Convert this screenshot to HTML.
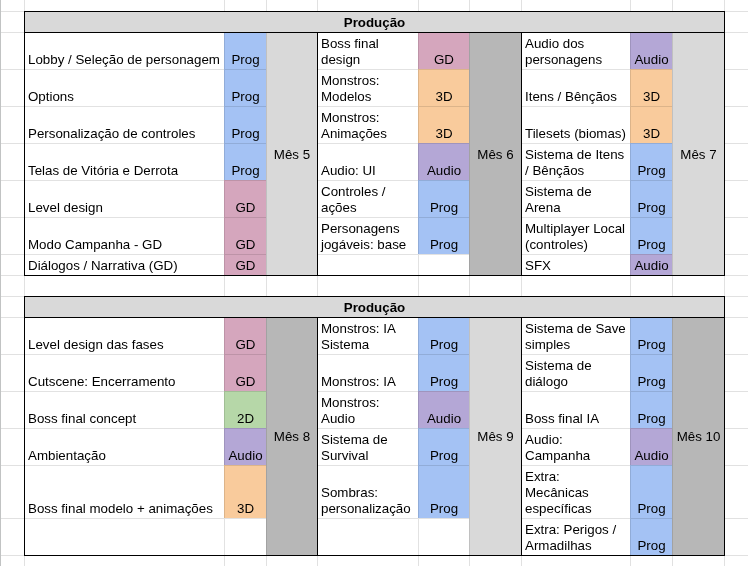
<!DOCTYPE html>
<html lang="pt"><head><meta charset="utf-8"><title>Produção</title>
<style>
html,body{margin:0;padding:0;background:#fff;}
body{width:748px;height:566px;position:relative;overflow:hidden;font-family:"Liberation Sans",Arial,sans-serif;font-size:13.333px;line-height:16px;color:#000;}
.r{position:absolute;}
.c{position:absolute;box-sizing:border-box;display:flex;flex-direction:column;justify-content:flex-end;white-space:nowrap;overflow:hidden;padding:0 3px 1px 3px;}
.c.t{align-items:flex-start;}
.c.k{align-items:center;}
.c.m{align-items:center;justify-content:center;padding:2px 0 0 0;}
.c.hd{align-items:center;font-weight:bold;}
</style></head><body>
<div class="r" style="left:0px;top:11px;width:748px;height:1px;background:#e1e1e1"></div>
<div class="r" style="left:0px;top:32px;width:748px;height:1px;background:#e1e1e1"></div>
<div class="r" style="left:0px;top:69px;width:748px;height:1px;background:#e1e1e1"></div>
<div class="r" style="left:0px;top:106px;width:748px;height:1px;background:#e1e1e1"></div>
<div class="r" style="left:0px;top:143px;width:748px;height:1px;background:#e1e1e1"></div>
<div class="r" style="left:0px;top:180px;width:748px;height:1px;background:#e1e1e1"></div>
<div class="r" style="left:0px;top:217px;width:748px;height:1px;background:#e1e1e1"></div>
<div class="r" style="left:0px;top:254px;width:748px;height:1px;background:#e1e1e1"></div>
<div class="r" style="left:0px;top:275px;width:748px;height:1px;background:#e1e1e1"></div>
<div class="r" style="left:0px;top:296px;width:748px;height:1px;background:#e1e1e1"></div>
<div class="r" style="left:0px;top:317px;width:748px;height:1px;background:#e1e1e1"></div>
<div class="r" style="left:0px;top:354px;width:748px;height:1px;background:#e1e1e1"></div>
<div class="r" style="left:0px;top:391px;width:748px;height:1px;background:#e1e1e1"></div>
<div class="r" style="left:0px;top:428px;width:748px;height:1px;background:#e1e1e1"></div>
<div class="r" style="left:0px;top:465px;width:748px;height:1px;background:#e1e1e1"></div>
<div class="r" style="left:0px;top:518px;width:748px;height:1px;background:#e1e1e1"></div>
<div class="r" style="left:0px;top:555px;width:748px;height:1px;background:#e1e1e1"></div>
<div class="r" style="left:24px;top:0px;width:1px;height:566px;background:#e1e1e1"></div>
<div class="r" style="left:224px;top:0px;width:1px;height:566px;background:#e1e1e1"></div>
<div class="r" style="left:266px;top:0px;width:1px;height:566px;background:#e1e1e1"></div>
<div class="r" style="left:317px;top:0px;width:1px;height:566px;background:#e1e1e1"></div>
<div class="r" style="left:418px;top:0px;width:1px;height:566px;background:#e1e1e1"></div>
<div class="r" style="left:469px;top:0px;width:1px;height:566px;background:#e1e1e1"></div>
<div class="r" style="left:521px;top:0px;width:1px;height:566px;background:#e1e1e1"></div>
<div class="r" style="left:630px;top:0px;width:1px;height:566px;background:#e1e1e1"></div>
<div class="r" style="left:672px;top:0px;width:1px;height:566px;background:#e1e1e1"></div>
<div class="r" style="left:724px;top:0px;width:1px;height:566px;background:#e1e1e1"></div>
<div class="r" style="left:0px;top:0px;width:1px;height:566px;background:#c1c3c3"></div>
<div class="c hd" style="left:24px;top:11px;width:700px;height:21px;background:#d9d9d9;border-top:1px solid #000;border-left:1px solid #000"><span>Produção</span></div>
<div class="c t" style="left:24px;top:32px;width:200px;height:37px;background:#ffffff;border-top:1px solid #e2e2e2;border-left:1px solid #e2e2e2;"><span>Lobby / Seleção de personagem</span></div>
<div class="c k" style="left:224px;top:32px;width:42px;height:37px;background:#a4c2f4;border-top:1px solid #91acd8;border-left:1px solid #91acd8;"><span>Prog</span></div>
<div class="c t" style="left:24px;top:69px;width:200px;height:37px;background:#ffffff;border-top:1px solid #e2e2e2;border-left:1px solid #e2e2e2;"><span>Options</span></div>
<div class="c k" style="left:224px;top:69px;width:42px;height:37px;background:#a4c2f4;border-top:1px solid #91acd8;border-left:1px solid #91acd8;"><span>Prog</span></div>
<div class="c t" style="left:24px;top:106px;width:200px;height:37px;background:#ffffff;border-top:1px solid #e2e2e2;border-left:1px solid #e2e2e2;"><span>Personalização de controles</span></div>
<div class="c k" style="left:224px;top:106px;width:42px;height:37px;background:#a4c2f4;border-top:1px solid #91acd8;border-left:1px solid #91acd8;"><span>Prog</span></div>
<div class="c t" style="left:24px;top:143px;width:200px;height:37px;background:#ffffff;border-top:1px solid #e2e2e2;border-left:1px solid #e2e2e2;"><span>Telas de Vitória e Derrota</span></div>
<div class="c k" style="left:224px;top:143px;width:42px;height:37px;background:#a4c2f4;border-top:1px solid #91acd8;border-left:1px solid #91acd8;"><span>Prog</span></div>
<div class="c t" style="left:24px;top:180px;width:200px;height:37px;background:#ffffff;border-top:1px solid #e2e2e2;border-left:1px solid #e2e2e2;"><span>Level design</span></div>
<div class="c k" style="left:224px;top:180px;width:42px;height:37px;background:#d5a6bd;border-top:1px solid #bd93a7;border-left:1px solid #bd93a7;"><span>GD</span></div>
<div class="c t" style="left:24px;top:217px;width:200px;height:37px;background:#ffffff;border-top:1px solid #e2e2e2;border-left:1px solid #e2e2e2;"><span>Modo Campanha - GD</span></div>
<div class="c k" style="left:224px;top:217px;width:42px;height:37px;background:#d5a6bd;border-top:1px solid #bd93a7;border-left:1px solid #bd93a7;"><span>GD</span></div>
<div class="c t" style="left:24px;top:254px;width:200px;height:21px;background:#ffffff;border-top:1px solid #e2e2e2;border-left:1px solid #e2e2e2;"><span>Diálogos / Narrativa (GD)</span></div>
<div class="c k" style="left:224px;top:254px;width:42px;height:21px;background:#d5a6bd;border-top:1px solid #bd93a7;border-left:1px solid #bd93a7;"><span>GD</span></div>
<div class="c m" style="left:266px;top:32px;width:51px;height:243px;background:#d9d9d9;border-top:1px solid #c0c0c0;border-left:1px solid #c0c0c0;padding-top:2px;"><span>Mês 5</span></div>
<div class="c t" style="left:317px;top:32px;width:101px;height:37px;background:#ffffff;border-top:1px solid #e2e2e2;border-left:1px solid #e2e2e2;"><span>Boss final<br>design</span></div>
<div class="c k" style="left:418px;top:32px;width:51px;height:37px;background:#d5a6bd;border-top:1px solid #bd93a7;border-left:1px solid #bd93a7;"><span>GD</span></div>
<div class="c t" style="left:317px;top:69px;width:101px;height:37px;background:#ffffff;border-top:1px solid #e2e2e2;border-left:1px solid #e2e2e2;"><span>Monstros:<br>Modelos</span></div>
<div class="c k" style="left:418px;top:69px;width:51px;height:37px;background:#f9cb9c;border-top:1px solid #dcb48a;border-left:1px solid #dcb48a;"><span>3D</span></div>
<div class="c t" style="left:317px;top:106px;width:101px;height:37px;background:#ffffff;border-top:1px solid #e2e2e2;border-left:1px solid #e2e2e2;"><span>Monstros:<br>Animações</span></div>
<div class="c k" style="left:418px;top:106px;width:51px;height:37px;background:#f9cb9c;border-top:1px solid #dcb48a;border-left:1px solid #dcb48a;"><span>3D</span></div>
<div class="c t" style="left:317px;top:143px;width:101px;height:37px;background:#ffffff;border-top:1px solid #e2e2e2;border-left:1px solid #e2e2e2;"><span>Audio: UI</span></div>
<div class="c k" style="left:418px;top:143px;width:51px;height:37px;background:#b4a7d6;border-top:1px solid #9f94bd;border-left:1px solid #9f94bd;"><span>Audio</span></div>
<div class="c t" style="left:317px;top:180px;width:101px;height:37px;background:#ffffff;border-top:1px solid #e2e2e2;border-left:1px solid #e2e2e2;"><span>Controles /<br>ações</span></div>
<div class="c k" style="left:418px;top:180px;width:51px;height:37px;background:#a4c2f4;border-top:1px solid #91acd8;border-left:1px solid #91acd8;"><span>Prog</span></div>
<div class="c t" style="left:317px;top:217px;width:101px;height:37px;background:#ffffff;border-top:1px solid #e2e2e2;border-left:1px solid #e2e2e2;"><span>Personagens<br>jogáveis: base</span></div>
<div class="c k" style="left:418px;top:217px;width:51px;height:37px;background:#a4c2f4;border-top:1px solid #91acd8;border-left:1px solid #91acd8;"><span>Prog</span></div>
<div class="c t" style="left:317px;top:254px;width:101px;height:21px;background:#ffffff;border-top:1px solid #e2e2e2;border-left:1px solid #e2e2e2;"><span></span></div>
<div class="c k" style="left:418px;top:254px;width:51px;height:21px;background:#ffffff;border-top:1px solid #e2e2e2;border-left:1px solid #e2e2e2;"><span></span></div>
<div class="c m" style="left:469px;top:32px;width:52px;height:243px;background:#b7b7b7;border-top:1px solid #a2a2a2;border-left:1px solid #a2a2a2;padding-top:2px;"><span>Mês 6</span></div>
<div class="c t" style="left:521px;top:32px;width:109px;height:37px;background:#ffffff;border-top:1px solid #e2e2e2;border-left:1px solid #e2e2e2;"><span>Audio dos<br>personagens</span></div>
<div class="c k" style="left:630px;top:32px;width:42px;height:37px;background:#b4a7d6;border-top:1px solid #9f94bd;border-left:1px solid #9f94bd;"><span>Audio</span></div>
<div class="c t" style="left:521px;top:69px;width:109px;height:37px;background:#ffffff;border-top:1px solid #e2e2e2;border-left:1px solid #e2e2e2;"><span>Itens / Bênçãos</span></div>
<div class="c k" style="left:630px;top:69px;width:42px;height:37px;background:#f9cb9c;border-top:1px solid #dcb48a;border-left:1px solid #dcb48a;"><span>3D</span></div>
<div class="c t" style="left:521px;top:106px;width:109px;height:37px;background:#ffffff;border-top:1px solid #e2e2e2;border-left:1px solid #e2e2e2;"><span>Tilesets (biomas)</span></div>
<div class="c k" style="left:630px;top:106px;width:42px;height:37px;background:#f9cb9c;border-top:1px solid #dcb48a;border-left:1px solid #dcb48a;"><span>3D</span></div>
<div class="c t" style="left:521px;top:143px;width:109px;height:37px;background:#ffffff;border-top:1px solid #e2e2e2;border-left:1px solid #e2e2e2;"><span>Sistema de Itens<br>/ Bênçãos</span></div>
<div class="c k" style="left:630px;top:143px;width:42px;height:37px;background:#a4c2f4;border-top:1px solid #91acd8;border-left:1px solid #91acd8;"><span>Prog</span></div>
<div class="c t" style="left:521px;top:180px;width:109px;height:37px;background:#ffffff;border-top:1px solid #e2e2e2;border-left:1px solid #e2e2e2;"><span>Sistema de<br>Arena</span></div>
<div class="c k" style="left:630px;top:180px;width:42px;height:37px;background:#a4c2f4;border-top:1px solid #91acd8;border-left:1px solid #91acd8;"><span>Prog</span></div>
<div class="c t" style="left:521px;top:217px;width:109px;height:37px;background:#ffffff;border-top:1px solid #e2e2e2;border-left:1px solid #e2e2e2;"><span>Multiplayer Local<br>(controles)</span></div>
<div class="c k" style="left:630px;top:217px;width:42px;height:37px;background:#a4c2f4;border-top:1px solid #91acd8;border-left:1px solid #91acd8;"><span>Prog</span></div>
<div class="c t" style="left:521px;top:254px;width:109px;height:21px;background:#ffffff;border-top:1px solid #e2e2e2;border-left:1px solid #e2e2e2;"><span>SFX</span></div>
<div class="c k" style="left:630px;top:254px;width:42px;height:21px;background:#b4a7d6;border-top:1px solid #9f94bd;border-left:1px solid #9f94bd;"><span>Audio</span></div>
<div class="c m" style="left:672px;top:32px;width:52px;height:243px;background:#d9d9d9;border-top:1px solid #c0c0c0;border-left:1px solid #c0c0c0;padding-top:2px;"><span>Mês 7</span></div>
<div class="r" style="left:24px;top:11px;width:701px;height:1px;background:#000"></div>
<div class="r" style="left:24px;top:32px;width:701px;height:1px;background:#000"></div>
<div class="r" style="left:24px;top:275px;width:701px;height:1px;background:#000"></div>
<div class="r" style="left:24px;top:11px;width:1px;height:265px;background:#000"></div>
<div class="r" style="left:317px;top:32px;width:1px;height:244px;background:#000"></div>
<div class="r" style="left:521px;top:32px;width:1px;height:244px;background:#000"></div>
<div class="r" style="left:724px;top:11px;width:1px;height:265px;background:#000"></div>
<div class="c hd" style="left:24px;top:296px;width:700px;height:21px;background:#d9d9d9;border-top:1px solid #000;border-left:1px solid #000"><span>Produção</span></div>
<div class="c t" style="left:24px;top:317px;width:200px;height:37px;background:#ffffff;border-top:1px solid #e2e2e2;border-left:1px solid #e2e2e2;"><span>Level design das fases</span></div>
<div class="c k" style="left:224px;top:317px;width:42px;height:37px;background:#d5a6bd;border-top:1px solid #bd93a7;border-left:1px solid #bd93a7;"><span>GD</span></div>
<div class="c t" style="left:24px;top:354px;width:200px;height:37px;background:#ffffff;border-top:1px solid #e2e2e2;border-left:1px solid #e2e2e2;"><span>Cutscene: Encerramento</span></div>
<div class="c k" style="left:224px;top:354px;width:42px;height:37px;background:#d5a6bd;border-top:1px solid #bd93a7;border-left:1px solid #bd93a7;"><span>GD</span></div>
<div class="c t" style="left:24px;top:391px;width:200px;height:37px;background:#ffffff;border-top:1px solid #e2e2e2;border-left:1px solid #e2e2e2;"><span>Boss final concept</span></div>
<div class="c k" style="left:224px;top:391px;width:42px;height:37px;background:#b6d7a8;border-top:1px solid #a1be95;border-left:1px solid #a1be95;"><span>2D</span></div>
<div class="c t" style="left:24px;top:428px;width:200px;height:37px;background:#ffffff;border-top:1px solid #e2e2e2;border-left:1px solid #e2e2e2;"><span>Ambientação</span></div>
<div class="c k" style="left:224px;top:428px;width:42px;height:37px;background:#b4a7d6;border-top:1px solid #9f94bd;border-left:1px solid #9f94bd;"><span>Audio</span></div>
<div class="c t" style="left:24px;top:465px;width:200px;height:53px;background:#ffffff;border-top:1px solid #e2e2e2;border-left:1px solid #e2e2e2;"><span>Boss final modelo + animações</span></div>
<div class="c k" style="left:224px;top:465px;width:42px;height:53px;background:#f9cb9c;border-top:1px solid #dcb48a;border-left:1px solid #dcb48a;"><span>3D</span></div>
<div class="c t" style="left:24px;top:518px;width:200px;height:37px;background:#ffffff;border-top:1px solid #e2e2e2;border-left:1px solid #e2e2e2;"><span></span></div>
<div class="c k" style="left:224px;top:518px;width:42px;height:37px;background:#ffffff;border-top:1px solid #e2e2e2;border-left:1px solid #e2e2e2;"><span></span></div>
<div class="c m" style="left:266px;top:317px;width:51px;height:238px;background:#b7b7b7;border-top:1px solid #a2a2a2;border-left:1px solid #a2a2a2;padding-top:0px;"><span>Mês 8</span></div>
<div class="c t" style="left:317px;top:317px;width:101px;height:37px;background:#ffffff;border-top:1px solid #e2e2e2;border-left:1px solid #e2e2e2;"><span>Monstros: IA<br>Sistema</span></div>
<div class="c k" style="left:418px;top:317px;width:51px;height:37px;background:#a4c2f4;border-top:1px solid #91acd8;border-left:1px solid #91acd8;"><span>Prog</span></div>
<div class="c t" style="left:317px;top:354px;width:101px;height:37px;background:#ffffff;border-top:1px solid #e2e2e2;border-left:1px solid #e2e2e2;"><span>Monstros: IA</span></div>
<div class="c k" style="left:418px;top:354px;width:51px;height:37px;background:#a4c2f4;border-top:1px solid #91acd8;border-left:1px solid #91acd8;"><span>Prog</span></div>
<div class="c t" style="left:317px;top:391px;width:101px;height:37px;background:#ffffff;border-top:1px solid #e2e2e2;border-left:1px solid #e2e2e2;"><span>Monstros:<br>Audio</span></div>
<div class="c k" style="left:418px;top:391px;width:51px;height:37px;background:#b4a7d6;border-top:1px solid #9f94bd;border-left:1px solid #9f94bd;"><span>Audio</span></div>
<div class="c t" style="left:317px;top:428px;width:101px;height:37px;background:#ffffff;border-top:1px solid #e2e2e2;border-left:1px solid #e2e2e2;"><span>Sistema de<br>Survival</span></div>
<div class="c k" style="left:418px;top:428px;width:51px;height:37px;background:#a4c2f4;border-top:1px solid #91acd8;border-left:1px solid #91acd8;"><span>Prog</span></div>
<div class="c t" style="left:317px;top:465px;width:101px;height:53px;background:#ffffff;border-top:1px solid #e2e2e2;border-left:1px solid #e2e2e2;"><span>Sombras:<br>personalização</span></div>
<div class="c k" style="left:418px;top:465px;width:51px;height:53px;background:#a4c2f4;border-top:1px solid #91acd8;border-left:1px solid #91acd8;"><span>Prog</span></div>
<div class="c t" style="left:317px;top:518px;width:101px;height:37px;background:#ffffff;border-top:1px solid #e2e2e2;border-left:1px solid #e2e2e2;"><span></span></div>
<div class="c k" style="left:418px;top:518px;width:51px;height:37px;background:#ffffff;border-top:1px solid #e2e2e2;border-left:1px solid #e2e2e2;"><span></span></div>
<div class="c m" style="left:469px;top:317px;width:52px;height:238px;background:#d9d9d9;border-top:1px solid #c0c0c0;border-left:1px solid #c0c0c0;padding-top:0px;"><span>Mês 9</span></div>
<div class="c t" style="left:521px;top:317px;width:109px;height:37px;background:#ffffff;border-top:1px solid #e2e2e2;border-left:1px solid #e2e2e2;"><span>Sistema de Save<br>simples</span></div>
<div class="c k" style="left:630px;top:317px;width:42px;height:37px;background:#a4c2f4;border-top:1px solid #91acd8;border-left:1px solid #91acd8;"><span>Prog</span></div>
<div class="c t" style="left:521px;top:354px;width:109px;height:37px;background:#ffffff;border-top:1px solid #e2e2e2;border-left:1px solid #e2e2e2;"><span>Sistema de<br>diálogo</span></div>
<div class="c k" style="left:630px;top:354px;width:42px;height:37px;background:#a4c2f4;border-top:1px solid #91acd8;border-left:1px solid #91acd8;"><span>Prog</span></div>
<div class="c t" style="left:521px;top:391px;width:109px;height:37px;background:#ffffff;border-top:1px solid #e2e2e2;border-left:1px solid #e2e2e2;"><span>Boss final IA</span></div>
<div class="c k" style="left:630px;top:391px;width:42px;height:37px;background:#a4c2f4;border-top:1px solid #91acd8;border-left:1px solid #91acd8;"><span>Prog</span></div>
<div class="c t" style="left:521px;top:428px;width:109px;height:37px;background:#ffffff;border-top:1px solid #e2e2e2;border-left:1px solid #e2e2e2;"><span>Audio:<br>Campanha</span></div>
<div class="c k" style="left:630px;top:428px;width:42px;height:37px;background:#b4a7d6;border-top:1px solid #9f94bd;border-left:1px solid #9f94bd;"><span>Audio</span></div>
<div class="c t" style="left:521px;top:465px;width:109px;height:53px;background:#ffffff;border-top:1px solid #e2e2e2;border-left:1px solid #e2e2e2;"><span>Extra:<br>Mecânicas<br>específicas</span></div>
<div class="c k" style="left:630px;top:465px;width:42px;height:53px;background:#a4c2f4;border-top:1px solid #91acd8;border-left:1px solid #91acd8;"><span>Prog</span></div>
<div class="c t" style="left:521px;top:518px;width:109px;height:37px;background:#ffffff;border-top:1px solid #e2e2e2;border-left:1px solid #e2e2e2;"><span>Extra: Perigos /<br>Armadilhas</span></div>
<div class="c k" style="left:630px;top:518px;width:42px;height:37px;background:#a4c2f4;border-top:1px solid #91acd8;border-left:1px solid #91acd8;"><span>Prog</span></div>
<div class="c m" style="left:672px;top:317px;width:52px;height:238px;background:#b7b7b7;border-top:1px solid #a2a2a2;border-left:1px solid #a2a2a2;padding-top:0px;"><span>Mês 10</span></div>
<div class="r" style="left:24px;top:296px;width:701px;height:1px;background:#000"></div>
<div class="r" style="left:24px;top:317px;width:701px;height:1px;background:#000"></div>
<div class="r" style="left:24px;top:555px;width:701px;height:1px;background:#000"></div>
<div class="r" style="left:24px;top:296px;width:1px;height:260px;background:#000"></div>
<div class="r" style="left:317px;top:317px;width:1px;height:239px;background:#000"></div>
<div class="r" style="left:521px;top:317px;width:1px;height:239px;background:#000"></div>
<div class="r" style="left:724px;top:296px;width:1px;height:260px;background:#000"></div>
</body></html>
